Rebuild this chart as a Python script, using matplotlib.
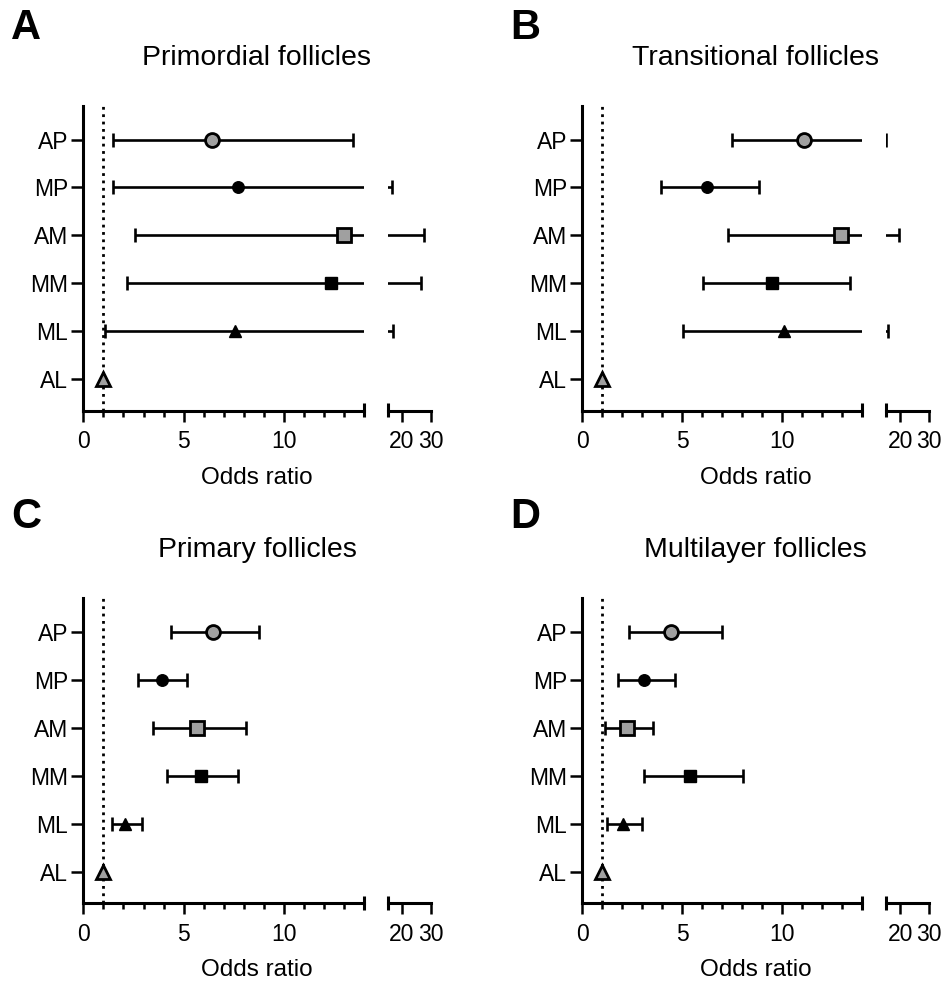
import matplotlib
matplotlib.use("Agg")
import matplotlib.pyplot as plt
import numpy as np

plt.rcParams['font.family'] = ['Liberation Sans', 'DejaVu Sans']

categories = ["AP", "MP", "AM", "MM", "ML", "AL"]

titles = ["Primordial follicles", "Transitional follicles",
          "Primary follicles", "Multilayer follicles"]
panel_letters = ["A", "B", "C", "D"]

# Odds ratios and 95% CI (AL is the reference group, OR = 1, no CI)
or_A = [6.43, 7.73, 13.0, 12.33, 7.57, 1.0]
lo_A = [1.47, 1.47, 2.58, 2.18, 1.10, np.nan]
hi_A = [13.42, 16.6, 27.6, 26.7, 16.9, np.nan]

or_B = [11.1, 6.22, 12.92, 9.47, 10.08, 1.0]
lo_B = [7.50, 3.93, 7.27, 6.05, 5.03, np.nan]
hi_B = [15.1, 8.82, 19.6, 13.4, 15.9, np.nan]

or_C = [6.45, 3.90, 5.65, 5.85, 2.10, 1.0]
lo_C = [4.37, 2.73, 3.47, 4.15, 1.45, np.nan]
hi_C = [8.75, 5.17, 8.12, 7.73, 2.92, np.nan]

or_D = [4.45, 3.07, 2.22, 5.38, 2.02, 1.0]
lo_D = [2.33, 1.78, 1.12, 3.10, 1.22, np.nan]
hi_D = [7.00, 4.62, 3.53, 8.02, 2.98, np.nan]

panels = [(or_A, lo_A, hi_A), (or_B, lo_B, hi_B),
          (or_C, lo_C, hi_C), (or_D, lo_D, hi_D)]

left_ticks = [0, 5, 10]
right_ticks = [20, 30]

GRAY = "#a0a0a0"
marker_styles = {
    "AP": dict(marker="o", mfc=GRAY, mec="black", ms=10, mew=2.0),
    "MP": dict(marker="o", mfc="black", mec="black", ms=8.3, mew=1),
    "AM": dict(marker="s", mfc=GRAY, mec="black", ms=10, mew=2.0),
    "MM": dict(marker="s", mfc="black", mec="black", ms=8.5, mew=1),
    "ML": dict(marker="^", mfc="black", mec="black", ms=8.3, mew=1),
    "AL": dict(marker="^", mfc=GRAY, mec="black", ms=10.5, mew=2.0),
}

W, H = 943, 983
fig = plt.figure(figsize=(W / 100, H / 100), dpi=100)

# panel geometry in pixels: (left spine x, left seg end, right seg start, right seg end, top, bottom)
geom = [
    (83.3, 364.3, 387.7, 430.7, 106, 410.7),
    (582.3, 862.3, 885.7, 929.0, 106, 410.7),
    (83.3, 364.3, 387.7, 430.7, 598, 903.3),
    (582.3, 862.3, 885.7, 929.0, 598, 903.3),
]

LW_SPINE = 2.2
TICK_W = 1.8
ELW = 1.9
FS_TICK = 16.5
y = np.arange(len(categories))[::-1] + 1  # AP at top

for idx, ((orv, lo, hi), (x0, x1, x2, x3, top, bot)) in enumerate(zip(panels, geom)):
    orv = np.array(orv); lo = np.array(lo); hi = np.array(hi)
    axL = fig.add_axes([x0 / W, 1 - bot / H, (x1 - x0) / W, (bot - top) / H])
    axR = fig.add_axes([x2 / W, 1 - bot / H, (x3 - x2) / W, (bot - top) / H])
    for ax, xl in ((axL, (0, 14)), (axR, (15, 30))):
        ax.set_xlim(*xl)
        ax.set_ylim(0.34, 6.7)
        mask = ~np.isnan(lo)
        ax.errorbar(orv[mask], y[mask],
                    xerr=[orv[mask] - lo[mask], hi[mask] - orv[mask]],
                    fmt="none", ecolor="black", elinewidth=ELW,
                    capsize=4.8, capthick=ELW, zorder=2)
        for cat, xv, yv in zip(categories, orv, y):
            if xl[0] <= xv <= xl[1]:
                ax.plot([xv], [yv], linestyle="none", zorder=4,
                        **marker_styles[cat])
        for s in ("top", "right"):
            ax.spines[s].set_visible(False)
        ax.spines["bottom"].set_linewidth(LW_SPINE)
        ax.patch.set_alpha(0)
    # dotted reference line
    axL.axvline(1, color="black", linestyle=":", linewidth=2.0, zorder=1)

    axL.spines["left"].set_linewidth(LW_SPINE)
    axL.set_yticks(y)
    axL.set_yticklabels(categories, fontsize=FS_TICK)
    axL.tick_params(axis="y", length=8.5, width=TICK_W, pad=2.5)
    axL.set_xticks(left_ticks)
    axL.set_xticklabels([str(t) for t in left_ticks], fontsize=FS_TICK)
    axL.set_xticks([v for v in range(1, 14) if v % 5 != 0], minor=True)
    axL.tick_params(axis="x", which="major", length=8, width=TICK_W, pad=6)
    axL.tick_params(axis="x", which="minor", length=4.5, width=TICK_W)

    axR.spines["left"].set_visible(False)
    axR.set_yticks([])
    axR.set_xticks(right_ticks)
    axR.set_xticklabels([str(t) for t in right_ticks], fontsize=FS_TICK)
    axR.tick_params(axis="x", which="major", length=8, width=TICK_W, pad=6)

    # break marks at segment ends
    hpx = bot - top
    up, dn = 7.5 / hpx, 6.5 / hpx
    axL.plot([1, 1], [-dn, up], transform=axL.transAxes, color="black",
             lw=LW_SPINE, clip_on=False, solid_capstyle="butt")
    axR.plot([0, 0], [-dn, up], transform=axR.transAxes, color="black",
             lw=LW_SPINE, clip_on=False, solid_capstyle="butt")

    cx = (x0 + x3) / 2
    fig.text(cx / W, 1 - (top - 48) / H, titles[idx], ha="center", va="center",
             fontsize=20.5)
    fig.text(cx / W, 1 - (bot + 67) / H, "Odds ratio", ha="center",
             va="center", fontsize=17.5)
    lx = 11 if idx % 2 == 0 else 510
    ly = 28 if idx < 2 else 517
    fig.text(lx / W, 1 - ly / H, panel_letters[idx], ha="left", va="center",
             fontsize=30, fontweight="bold")

fig.savefig("out.png", dpi=100)
